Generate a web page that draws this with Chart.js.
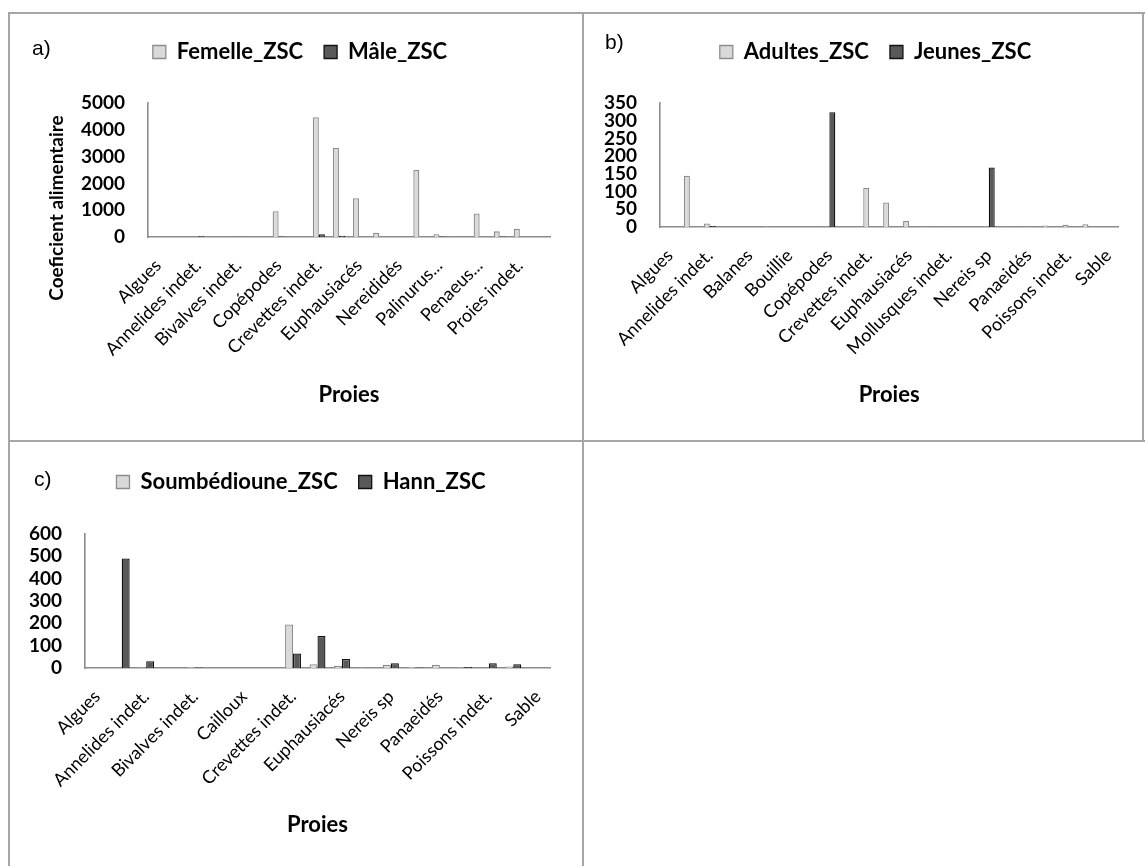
<!DOCTYPE html>
<html><head><meta charset="utf-8">
<script src="https://cdn.jsdelivr.net/npm/chart.js@4.4.1/dist/chart.umd.min.js"></script>
<style>
html,body{margin:0;padding:0;background:#fff;}
#page{position:relative;width:1145px;height:866px;overflow:hidden;background:#fff;}
.hl{position:absolute;height:2px;background:#a6a6a6;}
.vl{position:absolute;width:2px;background:#a6a6a6;}
canvas{position:absolute;}
.plab{position:absolute;font-family:"Liberation Sans",Arial,sans-serif;font-size:21px;color:#000;line-height:24px;}
</style></head><body>
<div id="page">
 <div class="hl" style="left:8px;top:12px;width:1137px"></div>
 <div class="hl" style="left:8px;top:440px;width:1137px"></div>
 <div class="vl" style="left:8px;top:12px;height:854px"></div>
 <div class="vl" style="left:582px;top:12px;height:854px"></div>
 <div class="vl" style="left:1142px;top:12px;height:430px"></div>
 <canvas id="ca" width="572" height="424" style="left:10px;top:15px"></canvas>
 <canvas id="cb" width="557" height="424" style="left:585px;top:15px"></canvas>
 <canvas id="cc" width="572" height="423" style="left:10px;top:443px"></canvas>
 <div class="plab" style="left:32px;top:36px">a)</div>
 <div class="plab" style="left:605px;top:30px">b)</div>
 <div class="plab" style="left:34px;top:467px">c)</div>
</div>
<script>
// ---- Chart a) : Femelle / Mâle ----
const catsA = ["Algues","Amphipodes","Annelides indet.","Balanes","Bivalves indet.","Bouillie","Copépodes","Crabes","Crevettes indet.","Crustacés indet.","Euphausiacés","Mollusques indet.","Nereididés","Nereis sp","Palinurus...","Panaeidés","Penaeus...","Poissons indet.","Proies indet.","Sable"];
const femelleZSC = [0,0,0,0,0,0,960,0,4470,3330,1450,160,0,2500,100,0,880,210,310,0];
const maleZSC    = [0,0,30,0,10,0,20,0,100,50,0,0,0,0,15,10,0,20,0,0];
const ticksA = {max:5000, step:1000};

// ---- Chart b) : Adultes / Jeunes ----
const catsB = ["Algues","Amphipodes","Annelides indet.","Ascidies","Balanes","Bivalves indet.","Bouillie","Cailloux","Copépodes","Crabes","Crevettes indet.","Crustacés indet.","Euphausiacés","Gastéropodes","Mollusques indet.","Nereididés","Nereis sp","Palinurus...","Panaeidés","Penaeus...","Poissons indet.","Proies indet.","Sable"];
const adultesZSC = [0,145,10,0,0,2,0,0,1,0,111,69,17,1,1,0,2,1,1,4,6,8,0];
const jeunesZSC  = [0,0,3,0,0,0,0,0,324,0,0,0,0,0,0,0,168,0,0,0,0,0,0];
const ticksB = {max:350, step:50};

// ---- Chart c) : Soumbédioune / Hann ----
const catsC = ["Algues","Amphipodes","Annelides indet.","Balanes","Bivalves indet.","Bouillie","Cailloux","Copépodes","Crevettes indet.","Crustacés indet.","Euphausiacés","Mollusques indet.","Nereis sp","Palinurus...","Panaeidés","Penaeus...","Poissons indet.","Proies indet.","Sable"];
const soumbediouneZSC = [0,0,3,0,4,0,0,0,195,17,10,2,15,4,15,3,0,7,0];
const hannZSC         = [0,490,30,0,2,0,0,0,65,143,40,0,21,2,0,5,21,17,0];
const ticksC = {max:600, step:100};

const FONT = "Lato, 'Open Sans', sans-serif";
const LIGHT = {bg:'#d9d9d9', bd:'#8c8c8c'};
const DARK  = {bg:'#595959', bd:'#111111'};

const fixLegend = {
  id:'fixLegend',
  beforeInit(chart, args, opts){
    const lg = chart.legend;
    if (lg) {
      const fit = lg.fit;
      lg.fit = function(){ fit.call(this); if (opts && opts.height) this.height = opts.height; };
      const draw = lg.draw;
      lg.draw = function(){ const c=this.ctx; c.save(); c.translate((opts && opts.dx)||0, 0); draw.apply(this, arguments); c.restore(); };
    }
  }
};
const shiftYTitle = {
  id:'shiftYTitle',
  afterLayout(chart, args, opts){
    const s = chart.scales.y;
    if (s && !s.__wrapped && opts && opts.dy) {
      const dt = s.drawTitle;
      s.drawTitle = function(){ const c=this.ctx; c.save(); c.translate(0, opts.dy); dt.apply(this, arguments); c.restore(); };
      s.__wrapped = true;
    }
  }
};

function build(id, cfg){
  return new Chart(document.getElementById(id), {
    type:'bar',
    data:{ labels: cfg.labels, datasets:[
      {label:cfg.names[0], data:cfg.d1, backgroundColor:LIGHT.bg, borderColor:LIGHT.bd, borderWidth:1.3, categoryPercentage:cfg.catPct, barPercentage:1},
      {label:cfg.names[1], data:cfg.d2, backgroundColor:DARK.bg, borderColor:DARK.bd, borderWidth:1.3, categoryPercentage:cfg.catPct, barPercentage:1}
    ]},
    options:{
      responsive:false, animation:false, devicePixelRatio:1,
      layout:{padding:{top:cfg.padTop, right:cfg.padRight, left:0, bottom:0}},
      plugins:{
        legend:{position:'top', labels:{boxWidth:13, boxHeight:13, padding:21, color:'#000', font:{family:FONT, size:22, weight:'bold'}}},
        tooltip:{enabled:false},
        fixLegend:{height:cfg.legendH, dx:cfg.legendDx||0},
        shiftYTitle:{dy:cfg.yTitleDy||0}
      },
      scales:{
        x:{
          grid:{display:false, drawTicks:false},
          border:{display:true, color:'#8c8c8c', width:1.6},
          ticks:{autoSkip:false, maxRotation:45, minRotation:45, padding:18, color:'#000', font:{family:FONT, size:18},
            callback:function(v,i){ return i%2===0 ? this.getLabelForValue(v) : ''; }},
          title:{display:true, text:'Proies', color:'#000', font:{family:FONT, size:22, weight:'bold'}, padding:{top:0, bottom:cfg.xTitlePadB}},
          afterFit:function(s){ s.height = cfg.xH; }
        },
        y:{
          min:0, max:cfg.ticks.max,
          grid:{display:false, drawTicks:false},
          border:{display:true, color:'#8c8c8c', width:1.6},
          ticks:{stepSize:cfg.ticks.step, autoSkip:false, padding:23, color:'#000', font:{family:FONT, size:19, weight:'bold'},
            callback:function(v){ return String(v); }},
          title: cfg.yTitle ? {display:true, text:cfg.yTitle, color:'#000', font:{family:FONT, size:19, weight:'bold'}, padding:{top:cfg.yTitlePadT, bottom:0}} : {display:false},
          afterFit:function(s){ s.width = cfg.yW; }
        }
      }
    },
    plugins:[fixLegend, shiftYTitle]
  });
}

build('ca', {labels:catsA, names:['Femelle_ZSC','Mâle_ZSC'], d1:femelleZSC, d2:maleZSC, ticks:ticksA, catPct:0.6,
  padTop:5, padRight:32, legendH:83, legendDx:20, xH:202, xTitlePadB:31, yW:138, yTitle:'Coeficient alimentaire', yTitlePadT:35, yTitleDy:38});
build('cb', {labels:catsB, names:['Adultes_ZSC','Jeunes_ZSC'], d1:adultesZSC, d2:jeunesZSC, ticks:ticksB, catPct:0.6,
  padTop:5, padRight:20, legendH:83, legendDx:22, xH:212, xTitlePadB:31, yW:75});
build('cc', {labels:catsC, names:['Soumbédioune_ZSC','Hann_ZSC'], d1:soumbediouneZSC, d2:hannZSC, ticks:ticksC, catPct:0.65,
  padTop:7, padRight:32, legendH:84, legendDx:21, xH:198, xTitlePadB:28, yW:75});
</script>
</body></html>
